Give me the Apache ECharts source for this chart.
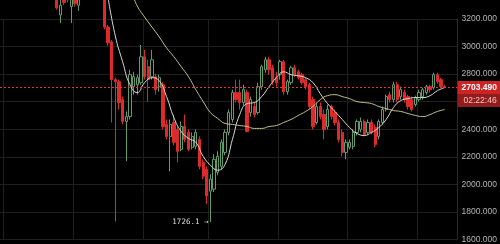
<!DOCTYPE html>
<html><head><meta charset="utf-8">
<script src="https://cdn.jsdelivr.net/npm/echarts/dist/echarts.min.js"></script>
<style>html,body{margin:0;padding:0;background:#000;}#c{width:500px;height:244px;}</style>
</head><body><div id="c"></div>
<script>
// ---- data ----
const categories = Array.from({length: 125}, (_, i) => String(i + 1));
// [open, close, low, high]; null = outside the visible price range
const ohlc = [
null,null,null,null,null,null,null,null,null,null,null,null,null,null,null,
[3370,3280,3268,3400],[3230,3300,3170,3370],[3350,3320,3300,3380],[3380,3340,3320,3420],
[3290,3360,3170,3400],[3360,3310,3290,3380],[3300,3340,3260,3360],
null,null,null,null,null,null,
[3446,3142,3125,3480],[3142,3027,3005,3157],[3034,2760,2449,3048],[2760,2745,1730,2774],
[2745,2594,2543,2760],[2615,2456,2435,2637],[2456,2492,2168,2529],[2492,2796,2471,2832],
[2709,2781,2651,2817],[2723,2774,2651,2796],[2738,2926,2723,3012],[2926,2781,2760,2976],
[2854,2760,2600,2904],[2781,2904,2760,2976],[2781,2687,2651,2803],[2709,2774,2673,2796],
[2723,2420,2399,2745],[2435,2348,2326,2471],[2348,2435,2095,2471],[2449,2305,2283,2507],
[2399,2240,2160,2420],[2254,2420,2240,2456],[2420,2326,2305,2507],[2377,2254,2240,2399],
[2269,2348,2254,2377],[2276,2377,2254,2399],[2326,2131,2110,2348],[2160,2059,2038,2182],
[2110,1915,1857,2131],[1951,2038,1726.1,2074],[1965,2182,1944,2219],[2088,2204,2066,2240],
[2131,2305,2110,2326],[2232,2377,2211,2399],[2377,2521,2355,2543],[2471,2666,2449,2687],
[2666,2615,2594,2760],[2666,2594,2543,2760],[2594,2687,2572,2723],[2666,2384,2377,2687],
[2521,2615,2492,2637],[2565,2507,2485,2594],[2521,2709,2507,2738],[2709,2854,2687,2868],
[2832,2904,2810,2926],[2904,2832,2796,2926],[2846,2745,2723,2868],[2774,2738,2709,2817],
[2796,2890,2760,2904],[2890,2673,2651,2904],[2673,2745,2651,2760],[2738,2846,2723,2861],
[2846,2796,2781,2868],[2817,2774,2760,2832],[2796,2738,2723,2810],[2760,2709,2687,2774],
[2723,2565,2543,2738],[2615,2420,2399,2637],[2449,2565,2435,2594],[2565,2492,2471,2594],
[2507,2399,2326,2543],[2420,2543,2399,2579],[2565,2492,2471,2579],[2521,2449,2427,2543],
[2449,2326,2305,2471],[2377,2232,2204,2399],[2232,2305,2182,2326],[2269,2305,2254,2326],
[2276,2377,2254,2399],[2377,2456,2355,2471],[2399,2456,2377,2485],[2456,2362,2348,2471],
[2377,2449,2362,2471],[2449,2377,2362,2471],[2413,2290,2269,2435],[2348,2456,2326,2471],
[2449,2543,2435,2565],[2543,2637,2529,2651],[2651,2615,2594,2673],[2615,2723,2594,2745],
[2723,2615,2594,2745],[2637,2687,2615,2709],[2666,2615,2594,2687],[2637,2565,2543,2651],
[2615,2543,2529,2637],[2579,2630,2565,2644],[2615,2666,2601,2687],[2637,2687,2615,2702],
[2666,2709,2651,2723],[2709,2687,2666,2723],[2702,2796,2687,2810],[2796,2745,2731,2810],
[2760,2709,2702,2774],[2709,2703.49,2702,2723],
null,null,null
];
// moving averages: [categoryIndex, value]
const maFast = [
[29,3359],[31,3077],[33,2890],[35,2723],[37,2666],[39,2738],[41,2774],[43,2752],[45,2637],
[47,2485],[49,2384],[51,2334],[53,2305],[55,2204],[57,2139],[59,2103],[61,2146],[63,2326],
[65,2507],[67,2586],[69,2594],[71,2637],[73,2709],[75,2774],[77,2817],[79,2796],[81,2788],
[83,2774],[85,2738],[87,2658],[89,2586],[91,2529],[93,2471],[95,2413],[97,2370],[99,2355],
[101,2377],[103,2413],[105,2471],[107,2558],[109,2608],[111,2622],[113,2630],[115,2630],
[117,2644],[119,2680],[121,2702]
];
const maSlow = [
[36,3359],[37,3294],[39,3214],[41,3142],[43,3070],[45,2991],[47,2926],[49,2854],[51,2781],
[53,2687],[55,2601],[57,2521],[59,2478],[61,2442],[63,2435],[65,2427],[67,2420],[69,2406],
[71,2406],[73,2420],[75,2427],[77,2449],[79,2471],[81,2500],[83,2529],[85,2565],[87,2615],
[89,2644],[91,2651],[93,2637],[95,2622],[97,2601],[99,2594],[101,2586],[103,2565],[105,2550],
[107,2536],[109,2529],[111,2514],[113,2500],[115,2492],[117,2507],[119,2529],[121,2543]
];
const lastPrice = 2703.49;
const countdown = '02:22:46';
const yMin = 1600, yMax = 3200, yStep = 200;

// ---- chart ----
const vGridAt = [1, 20, 39, 57, 76, 95, 114];
const chart = echarts.init(document.getElementById('c'), null, {renderer: 'canvas'});
chart.setOption({
  animation: false,
  backgroundColor: '#000',
  grid: {left: -2, right: 33, top: 19, bottom: 3},
  xAxis: {
    type: 'category', data: categories, boundaryGap: true,
    axisLine: {show: false}, axisTick: {show: false}, axisLabel: {show: false},
    splitLine: {show: true, interval: (i) => vGridAt.includes(i), lineStyle: {color: '#1f1f1f', width: 1}}
  },
  yAxis: {
    type: 'value', position: 'right', min: yMin, max: yMax, interval: yStep, scale: true,
    axisLine: {show: true, lineStyle: {color: '#2a2a2a'}},
    axisTick: {show: false},
    axisLabel: {margin: 4, color: '#b5b5b5', fontSize: 8.5, fontFamily: 'Liberation Sans',
      formatter: (v) => v.toFixed(3)},
    splitLine: {show: true, lineStyle: {color: '#1f1f1f', width: 1}}
  },
  series: [
    {
      type: 'candlestick', clip: false, barWidth: 2.8,
      data: ohlc.map(r => r ? r : '-'),
      itemStyle: {color: '#000', borderColor: '#5f9c6c', color0: '#dd2a2a', borderColor0: '#dd2a2a', borderWidth: 1},
      markLine: {
        silent: true, symbol: ['none', 'none'], animation: false,
        data: [{yAxis: lastPrice, lineStyle: {color: '#e53935', type: [2, 2], width: 1, opacity: 1}}],
        lineStyle: {color: '#e53935', type: [2, 2], width: 1, opacity: 1},
        emphasis: {disabled: true},
        label: {
          position: 'end', distance: 0,
          formatter: () => '{e| }\n{a|' + lastPrice.toFixed(3) + '}\n{b|' + countdown + '}',
          rich: {
            e: {height: 13, fontSize: 8},
            a: {backgroundColor: '#cc2424', color: '#fff', fontSize: 8.5, fontWeight: 'bold',
                fontFamily: 'Liberation Sans', height: 13, width: 40, padding: [0, 0, 0, 4]},
            b: {backgroundColor: '#901c1c', color: '#f2c4c4', fontSize: 8.5,
                fontFamily: 'Liberation Sans', height: 13, width: 40, padding: [0, 0, 0, 6]}
          }
        }
      },
      markPoint: {
        symbol: 'circle', symbolSize: 0, animation: false,
        data: [{type: 'min', valueDim: 'lowest'}],
        label: {show: true, position: 'left', distance: 2, color: '#dcdcdc', fontSize: 7.5,
          fontFamily: 'DejaVu Sans Mono', formatter: (p) => p.value + ' →'}
      }
    },
    {type: 'line', data: maFast, clip: false, smooth: true, showSymbol: false, silent: true,
     lineStyle: {color: '#dadada', width: 1}},
    {type: 'line', data: maSlow, clip: false, smooth: true, showSymbol: false, silent: true,
     lineStyle: {color: '#cbc08c', width: 1}}
  ]
});
</script></body></html>
